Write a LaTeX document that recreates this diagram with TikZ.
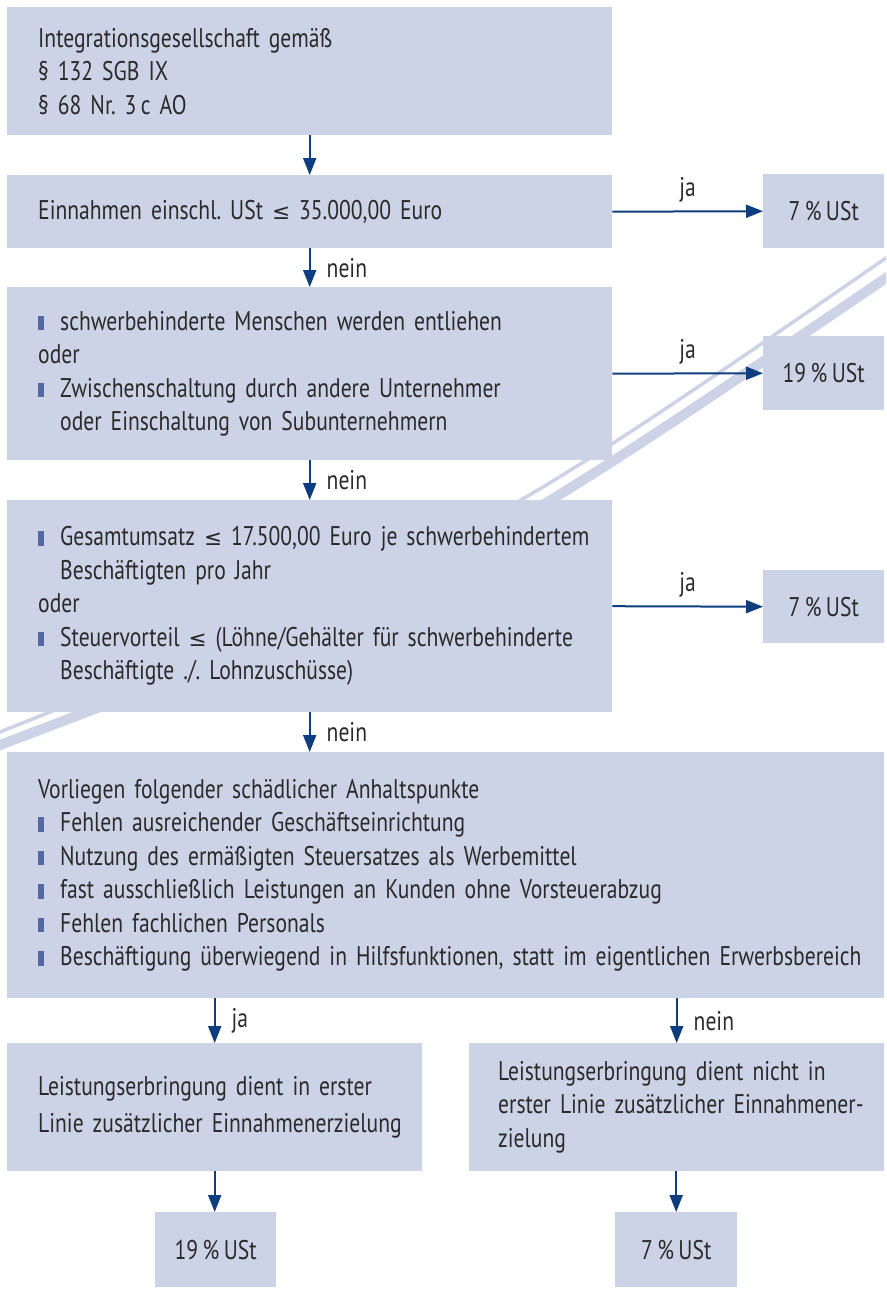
\documentclass[tikz,border=0pt]{standalone}
\usepackage{fontspec}
\setmainfont{PT Sans}[FakeStretch=0.8]
\newfontfamily\symf{DejaVu Sans}[Scale=0.8]
\usetikzlibrary{arrows.meta}
\definecolor{boxfill}{HTML}{CDD3E6}
\definecolor{swooshc}{HTML}{CDD3E6}
\definecolor{arrowblue}{HTML}{0D3D7F}
\definecolor{bulletblue}{HTML}{5568A0}
\definecolor{txt}{HTML}{2A2A2A}
\newcommand{\bul}{\makebox[22pt][l]{\textcolor{bulletblue}{\rule{5.5pt}{14.5pt}}}}
\newcommand{\ind}{\hspace*{22pt}}
\newcommand{\lesym}{{\symf ≤}}
\newcommand{\diagfont}{\fontsize{27}{33.5}\selectfont\fontdimen2\font=4.5pt\fontdimen3\font=0pt\fontdimen4\font=0pt}
\frenchspacing
\begin{document}
\begin{tikzpicture}[x=1pt,y=-1pt,
  every node/.style={font=\diagfont, text=txt},
  box/.style={fill=boxfill, draw=none, inner xsep=31pt, inner ysep=0pt, align=left, anchor=north west},
  rbox/.style={fill=boxfill, draw=none, inner sep=0pt, align=center, anchor=north west},
  arr/.style={draw=arrowblue, line width=2pt, -{Triangle[length=17pt,width=13pt]}},
  lbl/.style={inner sep=0pt},
  swoosh/.style={draw=swooshc}]
\useasboundingbox (0,0) rectangle (886,1290);
\begin{scope}
\clip (0,0) rectangle (886,1290);
\draw[swoosh, line width=3.5pt] (-30,744) -- (0,732) .. controls (473,543) .. (886,258) -- (916,237);
\draw[swoosh, line width=10pt] (-30,756.4) -- (0,745) .. controls (452,573) .. (886,278) -- (916,257.6);
\end{scope}

\node[box, minimum width=605pt, minimum height=128pt, text width=543pt] (b1) at (7,7)
  {\mbox{Integrationsgesellschaft gemäß}\\ \mbox{§ 132 SGB IX}\\ \mbox{§ 68 Nr. 3\,c AO}};
\node[box, minimum width=605pt, minimum height=73pt, text width=543pt] (b2) at (7,175)
  {\mbox{Einnahmen einschl. USt \lesym{} 35.000,00 Euro}};
\node[box, minimum width=605pt, minimum height=173pt, text width=543pt] (b3) at (7,287)
  {\mbox{\bul schwerbehinderte Menschen werden entliehen}\\ oder\\ \mbox{\bul Zwischenschaltung durch andere Unternehmer}\\ \mbox{\ind oder Einschaltung von Subunternehmern}};
\node[box, minimum width=605pt, minimum height=212pt, text width=543pt] (b4) at (7,500)
  {\mbox{\bul Gesamtumsatz \lesym{} 17.500,00 Euro je schwerbehindertem}\\ \mbox{\ind Beschäftigten pro Jahr}\\ oder\\ \mbox{\bul Steuervorteil \lesym{} (Löhne/Gehälter für schwerbehinderte}\\ \mbox{\ind Beschäftigte ./. Lohnzuschüsse)}};
\node[box, minimum width=877pt, minimum height=246pt, text width=815pt] (b5) at (7,752)
  {\mbox{Vorliegen folgender schädlicher Anhaltspunkte}\\ \mbox{\bul Fehlen ausreichender Geschäftseinrichtung}\\ \mbox{\bul Nutzung des ermäßigten Steuersatzes als Werbemittel}\\ \mbox{\bul fast ausschließlich Leistungen an Kunden ohne Vorsteuerabzug}\\ \mbox{\bul Fehlen fachlichen Personals}\\ \mbox{\bul Beschäftigung überwiegend in Hilfsfunktionen, statt im eigentlichen Erwerbsbereich}};
\node[box, minimum width=415pt, minimum height=128pt, text width=353pt] (b6) at (7,1043)
  {\mbox{Leistungserbringung dient in erster}\\[3pt] \mbox{Linie zusätzlicher Einnahmenerzielung}};
\node[box, inner xsep=29pt, minimum width=415pt, minimum height=128pt, text width=357pt] (b7) at (469,1043)
  {\mbox{Leistungserbringung dient nicht in}\\ \mbox{erster Linie zusätzlicher Einnahmener-}\\ \mbox{zielung}};

\node[rbox, minimum width=121pt, minimum height=74pt] (r1) at (763,174) {7\,\% USt};
\node[rbox, minimum width=121pt, minimum height=74pt] (r2) at (763,336) {19\,\% USt};
\node[rbox, minimum width=121pt, minimum height=73pt] (r3) at (763,570) {7\,\% USt};
\node[rbox, minimum width=121pt, minimum height=75pt] (r4) at (155,1212) {19\,\% USt};
\node[rbox, minimum width=122pt, minimum height=75pt] (r5) at (615,1212) {7\,\% USt};

\draw[arr] (b1.south) -- (b2.north);
\draw[arr] (b2.south) -- (b3.north) node[lbl, midway, anchor=west, xshift=16pt] {nein};
\draw[arr] (b3.south) -- (b4.north) node[lbl, midway, anchor=west, xshift=16pt] {nein};
\draw[arr] (b4.south) -- (b5.north -| b4.south) node[lbl, midway, anchor=west, xshift=16pt] {nein};
\draw[arr] (b2.east) -- (r1.west) node[lbl, midway, yshift=22pt] {ja};
\draw[arr] (b3.east) -- (r2.west) node[lbl, midway, yshift=22pt] {ja};
\draw[arr] (b4.east) -- (r3.west) node[lbl, midway, yshift=22pt] {ja};
\draw[arr] (b5.south -| b6.north) -- (b6.north) node[lbl, midway, anchor=west, xshift=16pt] {ja};
\draw[arr] (b5.south -| b7.north) -- (b7.north) node[lbl, midway, anchor=west, xshift=16pt] {nein};
\draw[arr] (b6.south) -- (b6.south |- r4.north);
\draw[arr] (b7.south -| r5.north) -- (r5.north);
\end{tikzpicture}
\end{document}
